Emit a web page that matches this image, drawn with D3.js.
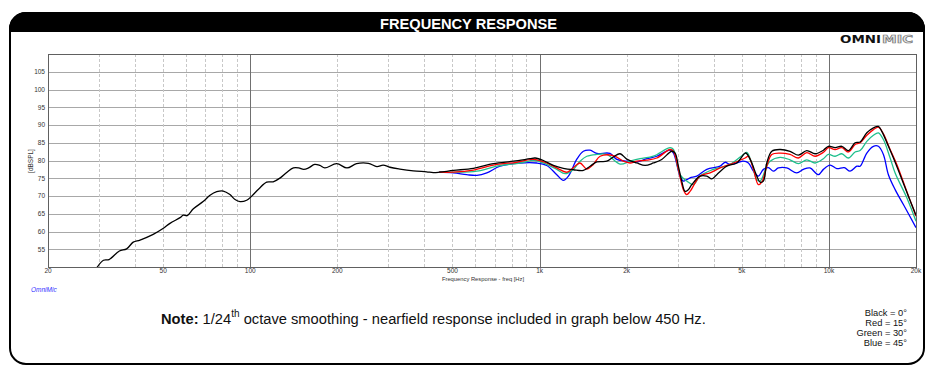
<!DOCTYPE html>
<html>
<head>
<meta charset="utf-8">
<script src="https://cdn.jsdelivr.net/npm/d3@7"></script>
<style>
  body { margin: 0; background: #fff; }
  svg { display: block; }
  text { font-family: "Liberation Sans", Arial, sans-serif; }
</style>
</head>
<body>
<svg id="chart" width="935" height="372"></svg>
<script>
// measured responses, [frequency Hz, dB SPL]
const blackCurve = [[29.5,49.8],[31.1,51.9],[32.5,52.1],[35.3,54.5],[37.4,55.1],[39.4,57.0],[41.6,57.6],[46.2,59.2],[50.1,60.9],[52.8,62.3],[57.2,63.9],[58.7,64.6],[60.6,64.5],[63.6,66.4],[68.9,68.5],[72.6,70.2],[76.6,71.2],[80.7,71.4],[85.1,70.4],[88.6,69.0],[92.2,68.4],[97.2,68.8],[101,69.9],[107,72.0],[114,73.9],[120,74.0],[127,75.1],[134,76.7],[141,77.9],[147,77.9],[153,77.5],[159,77.9],[167,78.9],[174,78.6],[181,77.9],[199,79.1],[216,77.9],[233,79.1],[256,79.2],[274,78.3],[288,78.7],[304,78.1],[329,77.6],[366,77.1],[407,76.8],[429,76.6],[450,76.7],[504,77.2],[591,77.8],[692,79.1],[812,79.8],[927,80.5],[965,80.7],[1031,80.0],[1116,78.6],[1208,77.8],[1309,77.4],[1417,77.2],[1495,78.4],[1577,79.6],[1707,79.8],[1799,81.0],[1898,81.9],[2001,80.4],[2168,79.3],[2316,78.6],[2474,79.3],[2644,80.3],[2864,82.6],[2941,82.1],[3018,78.4],[3100,74.2],[3183,71.3],[3268,71.8],[3358,73.2],[3586,75.6],[3784,75.6],[3938,74.8],[4097,76.0],[4436,78.4],[4804,79.3],[5134,82.1],[5204,81.9],[5414,79.3],[5634,75.6],[5784,73.9],[5938,74.2],[6100,79.3],[6348,82.6],[6780,83.1],[7340,82.6],[7844,81.5],[8386,82.8],[8960,81.9],[9572,82.9],[9962,84.0],[10506,83.6],[11082,84.0],[11678,82.8],[12318,85.0],[12820,85.2],[13522,87.8],[14252,89.2],[14826,89.6],[15236,88.2],[16058,84.0],[16712,80.7],[17620,76.0],[18826,69.9],[20000,64.6]];

const redCurve = [[450,76.7],[504,76.7],[591,77.3],[711,78.9],[834,79.5],[952,80.3],[1059,79.3],[1147,77.9],[1242,76.7],[1326,78.4],[1380,79.3],[1456,77.6],[1534,78.9],[1619,81.2],[1799,81.4],[1948,79.8],[2054,79.3],[2168,79.8],[2347,80.1],[2541,80.7],[2825,83.1],[2902,82.6],[3018,77.5],[3140,71.8],[3226,70.4],[3312,71.3],[3586,75.6],[3884,76.5],[4206,77.9],[4676,79.3],[5134,80.7],[5270,81.2],[5484,77.5],[5706,73.2],[5862,73.9],[6100,78.4],[6348,81.7],[6780,82.1],[7340,81.7],[7844,80.7],[8386,82.2],[8960,81.2],[9572,82.3],[9962,83.6],[10506,83.1],[11082,83.6],[11678,82.4],[12318,84.5],[12820,85.0],[13522,87.1],[14252,88.7],[14826,89.4],[15430,87.5],[16280,83.1],[17168,78.9],[18588,71.3],[20000,64.3]];

const greenCurve = [[450,76.7],[504,76.7],[607,77.0],[711,78.4],[856,79.3],[965,80.0],[1059,78.9],[1147,77.5],[1225,76.3],[1309,77.5],[1380,79.8],[1456,81.2],[1577,81.7],[1707,81.7],[1898,79.0],[2054,79.8],[2226,80.5],[2474,81.2],[2825,83.6],[2902,83.1],[3058,76.0],[3226,74.2],[3400,73.2],[3586,75.6],[3988,77.5],[4554,78.9],[5064,81.7],[5204,82.3],[5414,79.3],[5634,74.6],[5784,74.2],[6100,78.4],[6262,79.8],[6780,80.9],[7340,80.2],[7844,79.1],[8386,80.2],[8960,79.3],[9572,80.5],[9962,81.7],[10506,81.2],[11082,81.9],[11678,80.7],[12318,82.4],[12820,82.8],[13522,85.4],[14252,87.1],[14826,87.8],[15430,85.9],[16280,80.7],[16940,76.5],[18588,69.5],[20000,62.9]];

const blueCurve = [[450,76.7],[504,76.5],[560,76.0],[607,75.8],[657,76.5],[730,78.4],[856,79.3],[978,79.3],[1059,78.6],[1147,76.0],[1208,74.4],[1258,75.6],[1344,80.3],[1417,82.6],[1495,82.9],[1577,82.0],[1752,82.0],[1849,80.3],[2001,79.8],[2168,79.6],[2347,80.5],[2541,81.2],[2825,82.9],[2902,82.1],[3058,75.6],[3140,74.2],[3226,74.6],[3312,75.1],[3494,75.6],[3784,77.5],[4206,78.4],[4377,79.5],[4554,78.9],[5064,79.8],[5270,79.3],[5484,77.0],[5706,75.6],[5938,77.5],[6178,78.0],[6428,77.0],[6690,77.9],[7150,77.9],[7742,76.5],[8162,77.5],[8600,77.9],[9198,76.0],[9572,77.5],[10098,78.7],[10650,77.7],[11300,78.0],[11838,77.0],[12488,78.4],[12820,78.4],[13522,82.1],[14252,84.0],[14826,84.0],[15430,81.7],[16058,76.0],[16940,71.8],[18090,67.6],[20000,61.1]];

const seriesColors = ["#0000ff", "#1fbf8c", "#ff0000", "#000000"];
const seriesData = [blueCurve, greenCurve, redCurve, blackCurve];

const yTicks = [55, 60, 65, 70, 75, 80, 85, 90, 95, 100, 105];
const xTickValues = [20, 50, 100, 200, 500, 1000, 2000, 5000, 10000, 20000];
const xTickLabels = ["20", "50", "100", "200", "500", "1k", "2k", "5k", "10k", "20k"];
const majorFreqs = [100, 1000, 10000];
const minorFreqs = [30, 40, 50, 60, 70, 80, 90, 200, 300, 400, 500, 600, 700, 800, 900,
                    2000, 3000, 4000, 5000, 6000, 7000, 8000, 9000];
const legendLines = ["Black = 0\u00b0", "Red = 15\u00b0", "Green = 30\u00b0", "Blue = 45\u00b0"];

const svg = d3.select("#chart");

// panel frame + header band
svg.append("rect")
  .attr("x", 10).attr("y", 13).attr("width", 914).attr("height", 351)
  .attr("rx", 16).attr("ry", 16)
  .attr("fill", "#fff").attr("stroke", "#000").attr("stroke-width", 2);

svg.append("path")
  .attr("d", "M10,31 L10,29 A16,16 0 0 1 26,13 L908,13 A16,16 0 0 1 924,29 L924,31 Z")
  .attr("fill", "#000").attr("stroke", "#000").attr("stroke-width", 2);

svg.append("text")
  .attr("x", 380).attr("y", 28.5)
  .attr("textLength", 177).attr("lengthAdjust", "spacingAndGlyphs")
  .attr("fill", "#fff")
  .style("font-weight", "bold")
  .style("font-size", "15.5px")
  .text("FREQUENCY RESPONSE");

// OMNIMIC logo
svg.append("text")
  .attr("x", 840).attr("y", 43.3)
  .attr("textLength", 41).attr("lengthAdjust", "spacingAndGlyphs")
  .attr("fill", "#111")
  .style("font-family", "'DejaVu Sans', sans-serif")
  .style("font-weight", "bold")
  .style("font-size", "11px")
  .text("OMNI");
svg.append("text")
  .attr("x", 882).attr("y", 43.3)
  .attr("textLength", 31).attr("lengthAdjust", "spacingAndGlyphs")
  .attr("fill", "#e4e4e4").attr("stroke", "#777").attr("stroke-width", 0.7)
  .style("font-family", "'DejaVu Sans', sans-serif")
  .style("font-weight", "bold")
  .style("font-size", "11px")
  .text("MIC");

// scales
const plot = { left: 48, right: 916, top: 54, bottom: 267 };
const x = d3.scaleLog().domain([20, 20000]).range([plot.left, plot.right]);
const y = d3.scaleLinear().domain([50, 110]).range([plot.bottom, plot.top]);

// grid
const grid = svg.append("g");
grid.selectAll(".hgrid").data(yTicks).enter().append("line")
  .attr("x1", plot.left).attr("x2", plot.right)
  .attr("y1", d => Math.round(y(d)) + 0.5).attr("y2", d => Math.round(y(d)) + 0.5)
  .attr("stroke", "#a8a8a8").attr("stroke-width", 1);

grid.selectAll(".vminor").data(minorFreqs).enter().append("line")
  .attr("x1", d => Math.round(x(d)) + 0.5).attr("x2", d => Math.round(x(d)) + 0.5)
  .attr("y1", plot.top).attr("y2", plot.bottom)
  .attr("stroke", "#c8c8c8").attr("stroke-width", 1)
  .attr("stroke-dasharray", "3,2");

grid.selectAll(".vmajor").data(majorFreqs).enter().append("line")
  .attr("x1", d => Math.round(x(d)) + 0.5).attr("x2", d => Math.round(x(d)) + 0.5)
  .attr("y1", plot.top).attr("y2", plot.bottom)
  .attr("stroke", "#707070").attr("stroke-width", 1);

svg.append("rect")
  .attr("x", plot.left + 0.5).attr("y", plot.top + 0.5)
  .attr("width", plot.right - plot.left).attr("height", plot.bottom - plot.top)
  .attr("fill", "none").attr("stroke", "#606060").attr("stroke-width", 1);

// tick labels
svg.selectAll(".ylab").data(yTicks).enter().append("text")
  .attr("x", plot.left - 3).attr("y", d => y(d) + 2.3)
  .attr("text-anchor", "end")
  .attr("fill", "#333")
  .style("font-size", "6.5px")
  .text(d => d);

svg.selectAll(".xlab").data(xTickValues).enter().append("text")
  .attr("x", d => x(d)).attr("y", 273)
  .attr("text-anchor", "middle")
  .attr("fill", "#333")
  .style("font-size", "6.5px")
  .text((d, i) => xTickLabels[i]);

svg.append("text")
  .attr("x", 483).attr("y", 281)
  .attr("text-anchor", "middle")
  .attr("fill", "#333")
  .style("font-size", "5.8px")
  .text("Frequency Response - freq [Hz]");

svg.append("text")
  .attr("transform", "translate(33,161) rotate(-90)")
  .attr("text-anchor", "middle")
  .attr("fill", "#333")
  .style("font-size", "6.5px")
  .text("[dBSPL]");

svg.append("text")
  .attr("x", 31).attr("y", 291.5)
  .attr("fill", "#3333ff")
  .style("font-size", "6.5px")
  .style("font-style", "italic")
  .text("OmniMic");

// curves
svg.append("clipPath").attr("id", "plotclip")
  .append("rect")
  .attr("x", plot.left).attr("y", plot.top)
  .attr("width", plot.right - plot.left).attr("height", plot.bottom - plot.top);

const line = d3.line()
  .x(d => x(d[0]))
  .y(d => y(d[1]))
  .curve(d3.curveCatmullRom.alpha(0.5));

svg.append("g").attr("clip-path", "url(#plotclip)")
  .selectAll("path").data(seriesData).enter().append("path")
  .attr("d", line)
  .attr("fill", "none")
  .attr("stroke", (d, i) => seriesColors[i])
  .attr("stroke-width", 1.3)
  .attr("stroke-linejoin", "round");

// note
const note = svg.append("text")
  .attr("x", 161).attr("y", 324)
  .attr("fill", "#111")
  .style("font-size", "14.7px");
note.append("tspan").style("font-weight", "bold").text("Note:");
note.append("tspan").text(" 1/24");
note.append("tspan").attr("dy", -7).style("font-size", "10px").text("th");
note.append("tspan").attr("dy", 7).text(" octave smoothing - nearfield response included in graph below 450 Hz.");

// legend
svg.selectAll(".legend").data(legendLines).enter().append("text")
  .attr("x", 907).attr("y", (d, i) => 316 + i * 10)
  .attr("text-anchor", "end")
  .attr("fill", "#111")
  .style("font-size", "9.3px")
  .text(d => d);
</script>
</body>
</html>
